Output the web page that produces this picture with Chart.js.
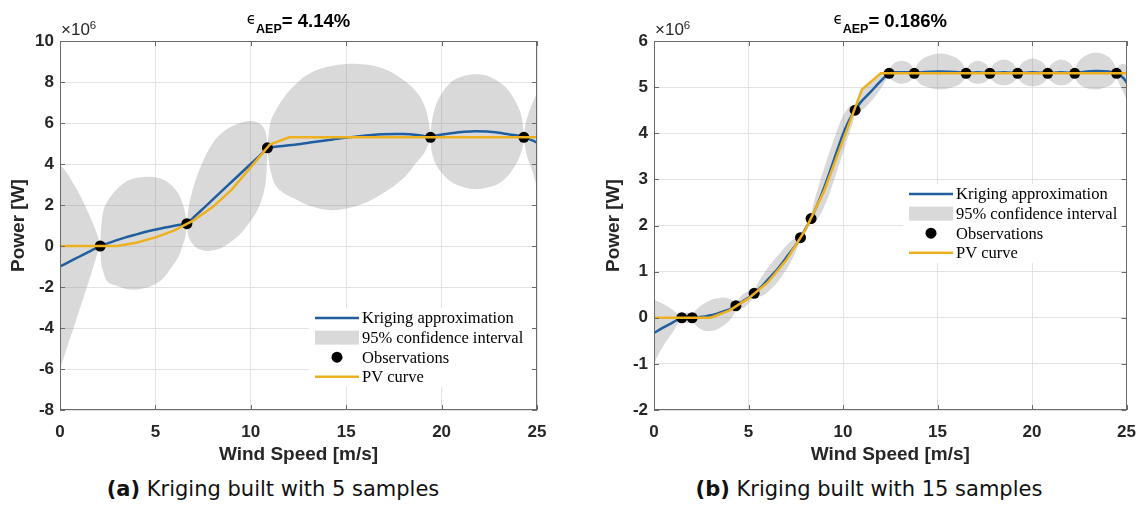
<!DOCTYPE html>
<html>
<head>
<meta charset="utf-8">
<script src="https://cdn.jsdelivr.net/npm/chart.js@4.4.1/dist/chart.umd.min.js"></script>
<style>
  html, body { margin: 0; padding: 0; background: #fff; overflow: hidden; }
  body { width: 1148px; height: 508px; position: relative; font-family: "Liberation Sans", Arial, sans-serif; }
  canvas { position: absolute; top: 0; }
  .title { position: absolute; top: 9px; width: 300px; text-align: center; font-weight: bold;
           font-size: 18.5px; line-height: 20px; color: #000; white-space: nowrap; }
  .title .eps { font-family: "DejaVu Sans"; font-weight: normal; font-size: 15px; vertical-align: 3px; }
  .title sub { font-size: 12.5px; vertical-align: -6px; line-height: 0; }
  .exp { position: absolute; top: 21px; font-size: 17px; line-height: 18px; color: #262626; white-space: nowrap; }
  .exp sup { font-size: 11.5px; vertical-align: 6px; line-height: 0; }
  .caption { position: absolute; top: 477px; width: 420px; text-align: center; font-family: "DejaVu Sans";
             font-size: 21px; line-height: 24px; color: #111; white-space: nowrap; }
</style>
</head>
<body>
<canvas id="chartA" width="570" height="470" style="left:0px"></canvas>
<canvas id="chartB" width="558" height="470" style="left:590px"></canvas>
<div class="title" id="titleA"><span class="eps">ϵ</span><sub>AEP</sub>= 4.14%</div>
<div class="title" id="titleB"><span class="eps">ϵ</span><sub>AEP</sub>= 0.186%</div>
<div class="exp" id="expA">×10<sup>6</sup></div>
<div class="exp" id="expB">×10<sup>6</sup></div>
<div class="caption" style="left:63px"><b>(a)</b> Kriging built with 5 samples</div>
<div class="caption" style="left:659px"><b>(b)</b> Kriging built with 15 samples</div>
<script>
// power values are in units of 10^6 W

// PV curve of the turbine
const pvSpeed = [0, 3, 4, 5, 6, 7, 8, 9, 10, 11, 12, 25];
const pvPower = [0, 0, 0.16, 0.42, 0.76, 1.25, 1.9, 2.75, 3.85, 4.95, 5.3, 5.3];

const speedTicks = [0, 5, 10, 15, 20, 25];
const powerTicksA = [-8, -6, -4, -2, 0, 2, 4, 6, 8, 10];
const powerTicksB = [-2, -1, 0, 1, 2, 3, 4, 5, 6];

// 5 samples: kriging mean and 95% band; a repeated speed starts a new lobe
const obsSpeedA = [2.11, 6.65, 10.87, 19.42, 24.31];
const obsPowerA = [0, 1.09, 4.79, 5.3, 5.3];
const speedA = [
  0, 0.4, 0.8, 1.2, 1.5, 1.75, 1.95, 2.05, 2.11,
  2.11, 2.16, 2.28, 2.5, 2.9, 3.4, 3.9, 4.4, 4.9, 5.4, 5.8, 6.2, 6.45, 6.58, 6.65,
  6.65, 6.72, 6.85, 7.1, 7.6, 8.1, 8.6, 9.1, 9.6, 10.05, 10.4, 10.65, 10.8, 10.87,
  10.87, 10.92, 11.05, 11.3, 11.7, 12.3, 13.1, 14.3, 15.7, 16.9, 18.0, 18.7, 19.1, 19.32, 19.42,
  19.42, 19.47, 19.6, 19.85, 20.5, 21.2, 21.75, 22.4, 23.0, 23.5, 23.9, 24.15, 24.27, 24.31,
  24.31, 24.36, 24.5, 24.75, 25
];
const meanA = [
  -1.0, -0.81, -0.62, -0.43, -0.29, -0.17, -0.08, -0.03, 0,
  0, 0.02, 0.06, 0.13, 0.26, 0.41, 0.54, 0.67, 0.78, 0.88, 0.95, 1.02, 1.06, 1.08, 1.09,
  1.09, 1.15, 1.26, 1.48, 1.91, 2.35, 2.79, 3.22, 3.66, 4.05, 4.35, 4.58, 4.72, 4.79,
  4.79, 4.8, 4.81, 4.84, 4.88, 4.94, 5.05, 5.2, 5.36, 5.45, 5.46, 5.42, 5.36, 5.32, 5.3,
  5.3, 5.33, 5.37, 5.42, 5.5, 5.57, 5.6, 5.58, 5.52, 5.45, 5.4, 5.35, 5.32, 5.3,
  5.3, 5.28, 5.24, 5.15, 5.05
];
const lowerA = [
  -6.0, -4.85, -3.75, -2.6, -1.75, -1.0, -0.4, -0.15, 0,
  0, -0.86, -1.3, -1.75, -1.92, -2.08, -2.13, -2.06, -1.9, -1.58, -1.1, -0.54, 0.1, 0.5, 1.09,
  1.09, 0.5, 0.25, -0.05, -0.24, -0.2, -0.02, 0.3, 0.75, 1.3, 1.85, 2.5, 3.3, 4.79,
  4.79, 4.3, 3.6, 2.95, 2.6, 2.3, 1.95, 1.75, 2.0, 2.55, 3.3, 4.1, 4.55, 5.0, 5.3,
  5.3, 4.7, 4.2, 3.75, 3.13, 2.85, 2.77, 2.85, 3.05, 3.45, 4.0, 4.5, 4.95, 5.3,
  5.3, 4.9, 4.3, 3.7, 2.85
];
const upperA = [
  4.0, 3.5, 2.89, 2.2, 1.58, 1.05, 0.55, 0.25, 0,
  0, 0.93, 1.75, 2.2, 2.7, 3.1, 3.3, 3.37, 3.37, 3.25, 3.0, 2.56, 2.0, 1.5, 1.09,
  1.09, 1.75, 2.35, 3.2, 4.35, 5.15, 5.6, 5.88, 6.05, 6.1, 6.0, 5.8, 5.45, 4.79,
  4.79, 5.35, 6.1, 6.6, 7.2, 7.85, 8.43, 8.79, 8.88, 8.67, 8.1, 7.5, 6.85, 6.1, 5.3,
  5.3, 5.95, 6.55, 7.2, 8.0, 8.3, 8.38, 8.3, 8.0, 7.6, 7.0, 6.45, 5.85, 5.3,
  5.3, 5.75, 6.3, 6.95, 7.45
];

// 15 samples
const obsSpeedB = [1.47, 2.02, 4.33, 5.3, 7.75, 8.31, 10.64, 12.44, 13.77, 16.51, 17.77, 19.24, 20.83, 22.26, 24.47];
const obsPowerB = [0, 0, 0.26, 0.53, 1.735, 2.15, 4.5, 5.3, 5.3, 5.3, 5.3, 5.3, 5.3, 5.3, 5.3];
const speedB = [
  0, 0.5, 1.0, 1.3, 1.47,
  1.47, 1.55, 1.75, 1.94, 2.02,
  2.02, 2.1, 2.3, 2.7, 3.2, 3.7, 4.05, 4.25, 4.33,
  4.33, 4.4, 4.6, 4.82, 5.05, 5.22, 5.3,
  5.3, 5.4, 5.7, 6.1, 6.6, 7.1, 7.5, 7.68, 7.75,
  7.75, 7.85, 8.03, 8.21, 8.31,
  8.31, 8.4, 8.6, 9.0, 9.5, 10.0, 10.35, 10.55, 10.64,
  10.64, 10.72, 10.95, 11.4, 11.9, 12.25, 12.38, 12.44,
  12.44, 12.51, 12.71, 13.1, 13.5, 13.7, 13.77,
  13.77, 13.91, 14.32, 15.14, 15.96, 16.37, 16.51,
  16.51, 16.57, 16.76, 17.14, 17.52, 17.71, 17.77,
  17.77, 17.84, 18.06, 18.5, 18.95, 19.17, 19.24,
  19.24, 19.32, 19.56, 20.03, 20.51, 20.75, 20.83,
  20.83, 20.9, 21.12, 21.55, 21.97, 22.19, 22.26,
  22.26, 22.37, 22.7, 23.36, 24.03, 24.36, 24.47,
  24.47, 24.52, 24.65, 24.85, 25
];
const meanB = [
  -0.33, -0.21, -0.1, -0.03, 0,
  0, 0, 0, 0, 0,
  0, 0, 0.01, 0.03, 0.07, 0.14, 0.19, 0.23, 0.26,
  0.26, 0.28, 0.33, 0.39, 0.45, 0.5, 0.53,
  0.53, 0.57, 0.68, 0.86, 1.09, 1.36, 1.58, 1.69, 1.735,
  1.735, 1.81, 1.94, 2.07, 2.15,
  2.15, 2.23, 2.41, 2.82, 3.4, 3.98, 4.3, 4.44, 4.5,
  4.5, 4.55, 4.68, 4.87, 5.09, 5.24, 5.29, 5.3,
  5.3, 5.31, 5.32, 5.32, 5.32, 5.31, 5.3,
  5.3, 5.31, 5.33, 5.34, 5.33, 5.31, 5.3,
  5.3, 5.3, 5.31, 5.32, 5.31, 5.3, 5.3,
  5.3, 5.3, 5.31, 5.32, 5.31, 5.3, 5.3,
  5.3, 5.3, 5.31, 5.32, 5.31, 5.3, 5.3,
  5.3, 5.3, 5.31, 5.32, 5.31, 5.3, 5.3,
  5.3, 5.31, 5.33, 5.35, 5.34, 5.31, 5.3,
  5.3, 5.29, 5.26, 5.19, 5.1
];
const lowerB = [
  -0.98, -0.6, -0.31, -0.1, 0,
  0, -0.07, -0.12, -0.07, 0,
  0, -0.1, -0.2, -0.28, -0.27, -0.16, -0.03, 0.1, 0.26,
  0.26, 0.2, 0.2, 0.24, 0.33, 0.43, 0.53,
  0.53, 0.47, 0.47, 0.59, 0.81, 1.11, 1.43, 1.62, 1.735,
  1.735, 1.76, 1.87, 2.02, 2.15,
  2.15, 2.05, 2.11, 2.4, 2.95, 3.58, 4.02, 4.29, 4.5,
  4.5, 4.45, 4.49, 4.65, 4.91, 5.14, 5.24, 5.3,
  5.3, 5.2, 5.12, 5.07, 5.12, 5.2, 5.3,
  5.3, 5.14, 5.02, 4.95, 5.02, 5.14, 5.3,
  5.3, 5.19, 5.11, 5.07, 5.11, 5.19, 5.3,
  5.3, 5.18, 5.09, 5.04, 5.09, 5.18, 5.3,
  5.3, 5.17, 5.07, 5.02, 5.07, 5.17, 5.3,
  5.3, 5.18, 5.09, 5.04, 5.09, 5.18, 5.3,
  5.3, 5.13, 5.01, 4.95, 5.02, 5.13, 5.3,
  5.3, 5.17, 5.04, 4.88, 4.72
];
const upperB = [
  0.39, 0.3, 0.17, 0.06, 0,
  0, 0.07, 0.12, 0.07, 0,
  0, 0.1, 0.2, 0.32, 0.41, 0.44, 0.4, 0.33, 0.26,
  0.26, 0.35, 0.47, 0.54, 0.58, 0.58, 0.53,
  0.53, 0.67, 0.89, 1.13, 1.37, 1.61, 1.73, 1.76, 1.735,
  1.735, 1.86, 2.01, 2.12, 2.15,
  2.15, 2.41, 2.71, 3.24, 3.85, 4.38, 4.58, 4.59, 4.5,
  4.5, 4.65, 4.87, 5.09, 5.27, 5.34, 5.34, 5.3,
  5.3, 5.42, 5.52, 5.57, 5.52, 5.42, 5.3,
  5.3, 5.48, 5.64, 5.73, 5.64, 5.48, 5.3,
  5.3, 5.41, 5.51, 5.57, 5.51, 5.41, 5.3,
  5.3, 5.42, 5.53, 5.6, 5.53, 5.42, 5.3,
  5.3, 5.43, 5.55, 5.62, 5.55, 5.43, 5.3,
  5.3, 5.42, 5.53, 5.6, 5.53, 5.42, 5.3,
  5.3, 5.49, 5.65, 5.75, 5.66, 5.49, 5.3,
  5.3, 5.41, 5.48, 5.5, 5.48
];

const INK = '#262626';
const tickFont = { family: 'Liberation Sans', size: 17, weight: 'bold' };
const labelFont = { family: 'Liberation Sans', size: 19, weight: 'bold' };

function points(xs, ys) {
  return xs.map((x, i) => ({ x: x, y: ys[i] }));
}

// a speed that repeats closes one lobe and opens the next, so put a gap there
function lobes(xs, ys) {
  const pts = [];
  xs.forEach((x, i) => {
    if (i > 0 && x === xs[i - 1]) pts.push({ x: x, y: null });
    pts.push({ x: x, y: ys[i] });
  });
  return pts;
}

// box with inward ticks on all sides, legend without border in the plot
const frame = {
  id: 'frame',
  afterDatasetsDraw(chart, args, opts) {
    const { ctx, chartArea: a } = chart;
    const sx = chart.scales.x, sy = chart.scales.y;
    const ds = chart.data.datasets;
    ctx.save();

    const x0 = a.left + 255, x1 = x0 + 44, tx = a.left + 302, step = 19.6;
    const y0 = a.top + opts.legendTop;
    ctx.fillStyle = '#fff';
    ctx.fillRect(x0 - 6, y0 - 10, a.right - 2 - (x0 - 6), step * 3 + 20);
    ctx.font = '16.5px "Liberation Serif"';
    ctx.textBaseline = 'middle';
    ctx.textAlign = 'left';
    [ds[2], ds[4], ds[1], ds[0]].forEach((d, i) => {
      const y = y0 + i * step;
      if (i === 1) {
        ctx.fillStyle = d.backgroundColor;
        ctx.fillRect(x0, y - 7, x1 - x0, 14);
      } else if (i === 2) {
        ctx.fillStyle = d.pointBackgroundColor;
        ctx.beginPath();
        ctx.arc((x0 + x1) / 2, y, d.pointRadius, 0, Math.PI * 2);
        ctx.fill();
      } else {
        ctx.strokeStyle = d.borderColor;
        ctx.lineWidth = d.borderWidth;
        ctx.beginPath();
        ctx.moveTo(x0, y);
        ctx.lineTo(x1, y);
        ctx.stroke();
      }
      ctx.fillStyle = '#000';
      ctx.fillText(d.label, tx, y + 1);
    });

    ctx.strokeStyle = '#6a6a6a';
    ctx.lineWidth = 1;
    ctx.beginPath();
    sx.ticks.forEach(t => {
      const p = Math.round(sx.getPixelForValue(t.value)) + 0.5;
      ctx.moveTo(p, a.bottom); ctx.lineTo(p, a.bottom - 5);
      ctx.moveTo(p, a.top); ctx.lineTo(p, a.top + 5);
    });
    sy.ticks.forEach(t => {
      const p = Math.round(sy.getPixelForValue(t.value)) + 0.5;
      ctx.moveTo(a.left, p); ctx.lineTo(a.left + 5, p);
      ctx.moveTo(a.right, p); ctx.lineTo(a.right - 5, p);
    });
    ctx.stroke();
    ctx.strokeRect(Math.round(a.left) + 0.5, Math.round(a.top) + 0.5,
                   Math.round(a.right - a.left) - 1, Math.round(a.bottom - a.top) - 1);
    ctx.restore();
  }
};

function makeChart(id, o) {
  return new Chart(document.getElementById(id), {
    type: 'line',
    data: {
      datasets: [
        { label: 'PV curve', data: points(pvSpeed, pvPower), borderColor: '#EDB120', borderWidth: 2.5,
          pointRadius: 0, tension: 0, fill: false },
        { label: 'Observations', data: points(o.obsSpeed, o.obsPower), showLine: false, pointRadius: 5.5,
          pointBackgroundColor: '#000', pointBorderColor: '#000', pointBorderWidth: 0 },
        { label: 'Kriging approximation', data: lobes(o.speed, o.mean), borderColor: '#1f5e9f', borderWidth: 2.5,
          borderCapStyle: 'round', borderJoinStyle: 'round', pointRadius: 0, tension: 0.3, fill: false },
        { label: 'lower', data: lobes(o.speed, o.lower), borderColor: 'transparent', borderWidth: 0,
          pointRadius: 0, tension: 0.35, fill: false },
        { label: '95% confidence interval', data: lobes(o.speed, o.upper), borderColor: 'transparent', borderWidth: 0,
          backgroundColor: 'rgba(128,128,128,0.3)', pointRadius: 0, tension: 0.35, fill: '-1' }
      ]
    },
    options: {
      responsive: false,
      animation: false,
      events: [],
      layout: { padding: { top: 41, right: o.padRight, bottom: 0, left: 0 } },
      plugins: {
        legend: { display: false },
        tooltip: { enabled: false },
        frame: { legendTop: o.legendTop }
      },
      scales: {
        x: {
          type: 'linear', min: 0, max: 25,
          afterBuildTicks: s => { s.ticks = speedTicks.map(v => ({ value: v })); },
          afterFit: s => { s.height = 60; },
          grid: { color: '#e3e3e3', drawTicks: false },
          border: { display: false },
          ticks: { font: tickFont, color: INK, padding: 12, maxRotation: 0, autoSkip: false },
          title: { display: true, text: 'Wind Speed [m/s]', font: labelFont, color: INK,
                   padding: { top: 0, bottom: 4 } }
        },
        y: {
          type: 'linear', min: o.yTicks[0], max: o.yTicks[o.yTicks.length - 1],
          afterBuildTicks: s => { s.ticks = o.yTicks.map(v => ({ value: v })); },
          afterFit: s => { s.width = o.axisWidth; },
          grid: { color: '#e3e3e3', drawTicks: false },
          border: { display: false },
          ticks: { font: tickFont, color: INK, padding: 6, autoSkip: false },
          title: { display: true, text: 'Power [W]', font: labelFont, color: INK,
                   padding: { top: o.titlePad, bottom: 0 } }
        }
      }
    },
    plugins: [frame]
  });
}

const chartA = makeChart('chartA', {
  speed: speedA, mean: meanA, lower: lowerA, upper: upperA,
  obsSpeed: obsSpeedA, obsPower: obsPowerA, yTicks: powerTicksA,
  axisWidth: 60, padRight: 33, titlePad: 7, legendTop: 277
});
const chartB = makeChart('chartB', {
  speed: speedB, mean: meanB, lower: lowerB, upper: upperB,
  obsSpeed: obsSpeedB, obsPower: obsPowerB, yTicks: powerTicksB,
  axisWidth: 64, padRight: 16.5, titlePad: 12, legendTop: 153
});

// titles and exponent labels follow each plot area
[[chartA, 0, 'titleA', 'expA'], [chartB, 590, 'titleB', 'expB']].forEach(([c, left, t, e]) => {
  const a = c.chartArea;
  document.getElementById(t).style.left = (left + (a.left + a.right) / 2 - 150) + 'px';
  document.getElementById(e).style.left = (left + a.left + 1) + 'px';
});
</script>
</body>
</html>
